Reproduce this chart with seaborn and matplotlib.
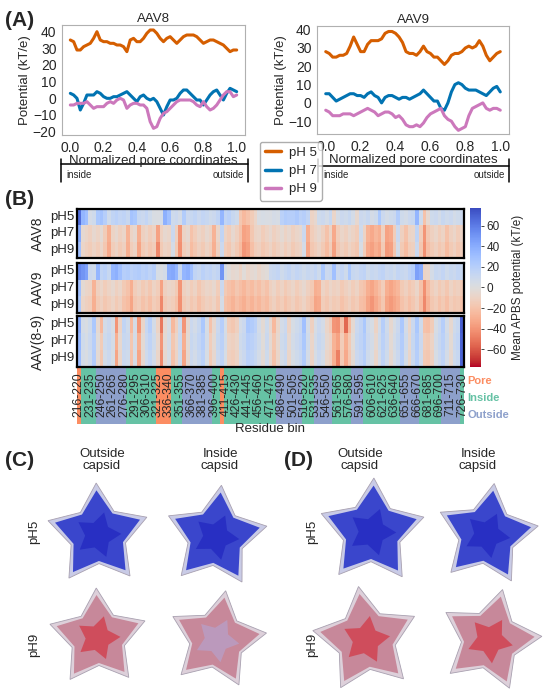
import numpy as np
import pandas as pd
import matplotlib
matplotlib.use("Agg")
import matplotlib.pyplot as plt
from matplotlib.lines import Line2D
from matplotlib.colors import ListedColormap
from matplotlib.patches import Polygon
import seaborn as sns

# ---------------- data ----------------
pore_x = [round(0.02 * i, 2) for i in range(51)]

aav8_ph5 = [35, 34, 29, 29, 31, 32, 33, 36, 40, 35, 34, 34, 33, 33, 32, 32, 31, 28, 35, 36, 34, 34, 36, 39, 41, 41,
            39, 36, 34, 36, 37, 35, 33, 35, 37, 38, 38, 38, 37, 35, 33, 34, 35, 35, 34, 33, 32, 30, 28, 29, 29]
aav8_ph7 = [3, 2, 0, -7, -3, 2, 2, 2, 4, 3, 1, 0, 0, 1, 1, 2, 3, 4, 2, 0, -2, 1, 2, 0, -1, 0,
            -2, -6, -10, -5, -1, -1, 0, 3, 5, 5, 3, 1, -1, -1, -4, -1, 2, 4, 5, 2, -1, 3, 6, 5, 4]
aav8_ph9 = [-4, -4, -3, -3, -3, -2, -4, -6, -5, -5, -5, -3, -2, -3, -1, 0, -1, -6, -4, -3, -3, -4, -4, -6, -14, -18,
            -17, -12, -9, -8, -6, -4, -2, -1, -1, -1, -1, -2, -4, -5, -2, -5, -7, -6, -4, -1, 2, 4, 4, 1, 2]
aav9_ph5 = [28, 27, 25, 25, 26, 26, 27, 31, 36, 32, 28, 28, 32, 34, 34, 34, 35, 38, 39, 39, 38, 36, 33, 28, 27, 27,
            26, 28, 31, 28, 27, 25, 25, 23, 21, 23, 26, 27, 27, 28, 30, 31, 30, 31, 34, 31, 26, 23, 25, 27, 28]
aav9_ph7 = [5, 5, 3, 1, 2, 3, 4, 5, 5, 4, 4, 3, 5, 6, 4, 3, 0, 3, 4, 4, 3, 2, 3, 3, 2, 3,
            4, 5, 7, 5, 3, 1, 1, -3, -4, 0, 6, 10, 11, 10, 8, 7, 7, 7, 6, 5, 4, 6, 8, 9, 6]
aav9_ph9 = [-4, -5, -7, -7, -7, -6, -6, -6, -7, -6, -5, -4, -3, -4, -5, -7, -6, -5, -5, -6, -8, -7, -9, -12, -13, -13,
            -12, -13, -11, -8, -6, -5, -4, -3, -7, -9, -10, -13, -15, -14, -13, -7, -3, -2, -1, 0, -3, -4, -3, -3, -4]

ph_labels = ["pH 5", "pH 7", "pH 9"]
line_colors = ["#d55e00", "#0173b2", "#cc78bc"]

bin_starts = list(range(216, 731, 5))
bin_labels = [f"{s}-{s + 4}" for s in bin_starts]
row_labels = ["pH5", "pH7", "pH9"]
group_labels = ["AAV8", "AAV9", "AAV(8-9)"]

hm_aav8_ph5 = [65, 35, 30, 5, 8, 25, 28, 20, 8, 15, 18, 14, 16, 12, 28, 25, 12, 10, 14, 8, 3, 2, 5, 38, 30, 8, 10, 6,
               22, 10, 12, 15, 10, 14, 12, 8, 10, 15, 35, 15, 18, 12, 8, -18, -25, -20, -15, -8, 2, 4, 3, 2, 5, 4,
               18, 22, 20, 20, 24, 18, 20, 15, -10, -6, 8, 10, 6, 12, -8, 5, 10, 8, 12, 6, -6, 10, 8, 12, 5, 8, 25,
               10, 6, 8, 10, 22, 8, 6, 10, 12, 35, 8, -20, -5, 8, 10, 6, 12, 8, 10, 6, 8, 10]
hm_aav8_ph7 = [40, -5, -8, -12, -6, -10, -4, -15, -30, -10, -6, -12, -8, -28, -10, -6, -30, -12, -8, -14, -10, -35,
               -12, -6, -8, 10, -12, -40, -10, -6, -20, -14, -8, -12, -6, -10, -28, -8, 15, -10, -14, -6, -12, -20,
               -35, -32, -18, -10, -8, -14, -10, -6, -12, -8, -4, -10, -6, -12, -8, -6, 10, -30, -14, -10, -6, -12,
               -20, -10, -32, -14, -8, -12, -6, -10, -14, 8, -10, -28, -32, -26, -30, -12, -35, -32, -14, 10, -12,
               -20, -10, -8, 15, -14, -40, -18, -12, -8, -14, -10, -20, -12, -8, -14, -10]
hm_aav8_ph9 = [30, -8, -12, -15, -10, -14, -8, -18, -32, -14, -10, -16, -12, -30, -14, -10, -34, -16, -12, -18, -14,
               -45, -16, -10, -12, 5, -16, -42, -14, -10, -24, -18, -12, -16, -10, -14, -30, -12, 10, -14, -18, -10,
               -16, -24, -40, -36, -22, -14, -12, -18, -14, -10, -16, -12, -8, -14, -10, -16, -12, -10, 5, -34, -18,
               -14, -10, -16, -24, -14, -36, -18, -12, -16, -10, -14, -18, 4, -14, -32, -36, -30, -34, -16, -38, -36,
               -18, 6, -16, -24, -14, -12, 10, -18, -42, -22, -16, -12, -18, -14, -24, -16, -12, -18, -14]
hm_aav9_ph5 = [55, 50, 45, 10, 8, 35, 15, 18, 12, 35, 38, 30, 20, 22, 18, 20, 22, 18, 20, 16, 20, 4, 2, 6, 40, 42,
               35, 12, 35, 38, 30, 15, 12, 18, 14, 16, 12, 15, 50, 5, -2, -6, -4, -10, -2, -8, -5, -3, -8, -4, -2,
               10, 12, 14, 8, 12, 15, 10, 14, 12, 8, 12, 10, 14, 8, 25, 10, 12, 30, 10, 14, 8, 25, 12, 10, 14, 16, 8,
               12, 10, 14, 16, 10, 12, 8, 14, 12, 10, 16, 20, 45, 40, -10, -8, 5, 12, 10, 14, 8, 12, 10, 14, 12]
hm_aav9_ph7 = [30, -4, -8, -10, -28, -12, -8, -14, -10, -6, -12, -8, -16, -20, -30, -14, -10, -16, -12, -18, -10, -14,
               -35, -12, -8, -10, -16, -40, -12, -8, -14, -10, -18, -12, -8, -10, -6, -14, 10, -16, -20, -24, -18,
               -22, -26, -20, -24, -18, -22, -16, -20, -12, -8, -14, -10, -16, -12, -8, -14, -10, -6, -12, -16, -30,
               -28, -10, -14, -8, -12, -10, -16, -12, -8, -14, -10, -18, -20, -30, -34, -28, -22, -14, -30, -34, -30,
               -26, -16, -12, -18, -14, -8, -20, -42, -24, -14, -10, -16, -12, -18, -10, -14, -12, -16]
hm_aav9_ph9 = [25, -8, -12, -14, -30, -16, -12, -18, -14, -10, -16, -12, -20, -24, -34, -18, -14, -20, -16, -22, -14,
               -18, -45, -16, -12, -14, -20, -42, -16, -12, -18, -14, -22, -16, -12, -14, -10, -18, 5, -20, -24, -28,
               -22, -26, -30, -24, -28, -22, -26, -20, -24, -16, -12, -18, -14, -20, -16, -12, -18, -14, -10, -16,
               -20, -34, -32, -14, -18, -12, -16, -14, -20, -16, -12, -18, -14, -22, -24, -34, -40, -32, -26, -18,
               -34, -38, -34, -30, -20, -16, -22, -18, -12, -24, -45, -28, -18, -14, -20, -16, -22, -14, -18, -16,
               -20]
hm_diff_ph5 = [40, 5, 2, 8, 25, -5, -25, 6, 10, 4, -40, -10, 15, 8, -25, 5, -40, -8, 12, 20, 6, -10, -50, -6, 4, -25,
               -12, 8, -40, -6, 10, 6, 12, 25, 4, -20, -6, 10, 20, 4, -15, -18, -12, 6, 10, 25, 22, 18, 6, -4, 8, -6,
               -25, -8, 6, 10, -10, 4, 8, 12, 30, 6, -12, 4, 10, 6, -8, -15, -40, -42, -20, -55, -25, -5, 10, 15, 25,
               8, 4, -10, 6, 20, 8, -6, 4, 10, 25, 6, -8, 10, 25, 8, -20, -22, -15, 4, 10, 20, 6, -6, 8, 12, 70]
hm_diff_ph7 = [35, 8, 4, 10, 20, -2, -15, 8, 12, 6, -30, -6, 12, 10, -18, 6, -30, -4, 10, 16, 8, -6, -40, -4, 6, -18,
               -8, 10, -30, -4, 12, 8, 14, 20, 6, -14, -4, 12, 18, 6, -10, -12, -8, 8, 12, 20, 18, 14, 8, -2, 10, -4,
               -18, -6, 8, 12, -6, 6, 10, 14, 25, 8, -8, 6, 12, 8, -6, -10, -28, -35, -14, -30, -16, -2, 12, 16, 22,
               10, 6, -6, 8, 18, 10, -4, 6, 12, 22, 8, -6, 12, 22, 10, -14, -16, -10, 6, 12, 18, 8, -4, 10, 14, 68]
hm_diff_ph9 = [32, 6, 2, 8, 22, -4, -18, 6, 10, 4, -34, -8, 10, 8, -20, 4, -34, -6, 8, 14, 6, -8, -45, -6, 4, -20,
               -10, 8, -34, -6, 10, 6, 12, 18, 4, -16, -6, 10, 16, 4, -12, -14, -10, 6, 10, 18, 16, 12, 6, -4, 8, -6,
               -20, -8, 6, 10, -8, 4, 8, 12, 22, 6, -10, 4, 10, 6, -8, -12, -30, -48, -16, -32, -18, -4, 10, 14, 20,
               8, 4, -8, 6, 16, 8, -6, 4, 10, 20, 6, -8, 10, 20, 8, -16, -18, -12, 4, 10, 16, 6, -6, 8, 12, 68]

# region of each residue bin: P = pore, I = inside, O = outside
region_codes = ("P" + "IIII" + "OOOOOOOO" + "IIIIIIII" + "PPPP" + "III" + "OOOOOOOO" + "II" + "P"
                + "IIIIIIIIIIIIII" + "OOOOOOO" + "III" + "OOOOO" + "IIIII" + "OOO" + "IIIIIIIIII"
                + "OOOOO" + "IIIIII" + "OOOOO" + "I")
region_names = ["Pore", "Inside", "Outside"]
region_colors = ["#fc8d62", "#66c2a5", "#8da0cb"]

# ---------------- figure ----------------
sns.set_style("white")
plt.rcParams["font.family"] = ["Liberation Sans", "DejaVu Sans"]
W, H = 550, 697
fig = plt.figure(figsize=(W / 100, H / 100), dpi=100)


def rect(x0, y0, x1, y1):
    return [x0 / W, 1 - y1 / H, (x1 - x0) / W, (y1 - y0) / H]


def fx(x):
    return x / W


def fy(y):
    return 1 - y / H


# overlay axes in pixel coordinates (for brackets and illustration panels)
ov = fig.add_axes([0, 0, 1, 1], zorder=-5)
ov.set_xlim(0, W)
ov.set_ylim(H, 0)
ov.axis("off")

# ---------- panel A ----------
pA = [(rect(62, 25, 245, 135), "AAV8", [aav8_ph5, aav8_ph7, aav8_ph9], (-22, 44), [-20, -10, 0, 10, 20, 30, 40]),
      (rect(317, 26, 509, 134), "AAV9", [aav9_ph5, aav9_ph7, aav9_ph9], (-17, 42), [-10, 0, 10, 20, 30, 40])]
for pos, title, series, ylim, yt in pA:
    ax = fig.add_axes(pos)
    df = pd.DataFrame({
        "x": pore_x * 3,
        "v": series[0] + series[1] + series[2],
        "pH": sum([[p] * len(pore_x) for p in ph_labels], []),
    })
    sns.lineplot(data=df, x="x", y="v", hue="pH", palette=line_colors, linewidth=2.2, legend=False, ax=ax)
    ax.set_xlim(-0.05, 1.05)
    ax.set_ylim(*ylim)
    ax.set_yticks(yt)
    ax.set_xticks([0, 0.2, 0.4, 0.6, 0.8, 1.0])
    ax.set_xticklabels(["0.0", "0.2", "0.4", "0.6", "0.8", "1.0"])
    ax.tick_params(labelsize=10, length=2.5, width=0.6, color="#999999", pad=1.5)
    ax.set_title(title, fontsize=9.5, pad=2)
    ax.set_xlabel("Normalized pore coordinates", fontsize=9.5, labelpad=0)
    ax.set_ylabel("Potential (kT/e)", fontsize=9.5, labelpad=1)
    for s in ax.spines.values():
        s.set_color("#b0b0b0")
        s.set_linewidth(0.8)

# inside/outside brackets
for x0, x1, yl in [(61, 248, 164), (318, 509, 166)]:
    ov.plot([x0, x1], [yl, yl], color="black", lw=1.1)
    ov.plot([x0, x0], [159, 182], color="black", lw=1.1)
    ov.plot([x1, x1], [159, 182], color="black", lw=1.1)
    ov.text(x0 + 5, 175, "inside", fontsize=7, va="center", ha="left")
    ov.text(x1 - 4, 175, "outside", fontsize=7, va="center", ha="right")

fig.legend(handles=[Line2D([0], [0], color=c, lw=2.5) for c in line_colors], labels=ph_labels,
           loc="upper left", bbox_to_anchor=(fx(253), fy(135)), fontsize=9.5, handlelength=1.2,
           handletextpad=0.6, borderpad=0.4, labelspacing=0.45, frameon=True, edgecolor="#999999",
           fancybox=True)

fig.text(fx(5), fy(20), "(A)", fontsize=15, fontweight="bold", va="center", ha="left")
fig.text(fx(5), fy(200), "(B)", fontsize=15, fontweight="bold", va="center", ha="left")

# ---------- panel B ----------
band = fig.add_axes(rect(77, 367, 464, 424), zorder=0)
code_idx = [["P", "I", "O"].index(c) for c in region_codes]
sns.heatmap(np.array([code_idx]), ax=band, cmap=ListedColormap(region_colors), vmin=-0.5, vmax=2.5,
            cbar=False, xticklabels=False, yticklabels=False)
band.axis("off")

cax = fig.add_axes(rect(470, 208, 481, 367))
blocks = [(rect(77, 209, 464, 258), [hm_aav8_ph5, hm_aav8_ph7, hm_aav8_ph9]),
          (rect(77, 263, 464, 313), [hm_aav9_ph5, hm_aav9_ph7, hm_aav9_ph9]),
          (rect(77, 316, 464, 367), [hm_diff_ph5, hm_diff_ph7, hm_diff_ph9])]
for k, (pos, rows) in enumerate(blocks):
    ax = fig.add_axes(pos, zorder=2)
    dfh = pd.DataFrame(rows, index=row_labels, columns=bin_labels)
    sns.heatmap(dfh, ax=ax, cmap="coolwarm_r", vmin=-77, vmax=77, cbar=(k == 0),
                cbar_ax=cax if k == 0 else None, xticklabels=3 if k == 2 else False,
                yticklabels=True)
    ax.tick_params(axis="y", labelsize=9.5, length=0, pad=2, rotation=0)
    if k == 2:
        ax.tick_params(axis="x", labelsize=8.8, length=3, width=0.6, pad=1, rotation=90)
    for s in ax.spines.values():
        s.set_visible(True)
        s.set_color("black")
        s.set_linewidth(1.6)
    fig.text(fx(38), pos[1] + pos[3] / 2, group_labels[k], rotation=90,
             fontsize=10, va="center", ha="center")

cax.set_yticks([-60, -40, -20, 0, 20, 40, 60])
cax.tick_params(labelsize=8.5, length=2.5, width=0.6, pad=1.5)
cax.set_ylabel("Mean APBS potential (kT/e)", fontsize=8.5, labelpad=4)
for s in cax.spines.values():
    s.set_visible(False)

fig.text(fx(270), fy(429), "Residue bin", fontsize=9.5, ha="center", va="center")
for i, (nm, col) in enumerate(zip(region_names, region_colors)):
    fig.text(fx(467), fy(381 + 17 * i), nm, color=col, fontsize=8, fontweight="bold", va="center", ha="left")

# ---------- panels C and D (surface renders, schematic) ----------
fig.text(fx(5), fy(461), "(C)", fontsize=15, fontweight="bold", va="center", ha="left")
fig.text(fx(284), fy(461), "(D)", fontsize=15, fontweight="bold", va="center", ha="left")
for xc, txt in [(102, "Outside\ncapsid"), (220, "Inside\ncapsid"), (360, "Outside\ncapsid"), (478, "Inside\ncapsid")]:
    fig.text(fx(xc), fy(460), txt, fontsize=9.5, ha="center", va="center", linespacing=1.1)
for xl in [34, 312]:
    fig.text(fx(xl), fy(532), "pH5", fontsize=9.5, rotation=90, ha="center", va="center")
    fig.text(fx(xl), fy(645), "pH9", fontsize=9.5, rotation=90, ha="center", va="center")


def star(cx, cy, R, rot, face, inner, rim):
    ang = np.deg2rad(np.arange(10) * 36 - 90 + rot)
    rad = np.where(np.arange(10) % 2 == 0, R, R * 0.55)
    pts = np.column_stack([cx + rad * np.cos(ang), cy + rad * np.sin(ang)])
    ov.add_patch(Polygon(pts, closed=True, facecolor=rim, edgecolor="#a8a0b0", lw=0.6))
    rad2 = np.where(np.arange(10) % 2 == 0, R * 0.86, R * 0.5)
    pts2 = np.column_stack([cx + rad2 * np.cos(ang), cy + rad2 * np.sin(ang)])
    ov.add_patch(Polygon(pts2, closed=True, facecolor=face, edgecolor="none"))
    rad3 = rad * 0.45
    pts3 = np.column_stack([cx + rad3 * np.cos(ang + 0.3), cy + rad3 * np.sin(ang + 0.3)])
    ov.add_patch(Polygon(pts3, closed=True, facecolor=inner, edgecolor="none", alpha=0.75))


ph5_face, ph5_inner, ph5_rim = "#3a46cc", "#2228c0", "#c9cbe6"
ph9_face, ph9_inner, ph9_rim = "#c7889a", "#d23a48", "#ddd0da"
star(98, 535, 52, -2, ph5_face, ph5_inner, ph5_rim)
star(216, 537, 52, 6, ph5_face, ph5_inner, ph5_rim)
star(98, 638, 50, -2, ph9_face, ph9_inner, ph9_rim)
star(217, 640, 50, 10, ph9_face, "#b8a0c8", ph9_rim)
star(372, 532, 54, 2, ph5_face, ph5_inner, ph5_rim)
star(487, 535, 52, 8, ph5_face, ph5_inner, ph5_rim)
star(366, 640, 54, -8, ph9_face, ph9_inner, ph9_rim)
star(490, 640, 52, 14, ph9_face, ph9_inner, ph9_rim)

fig.savefig("out.png", dpi=100)
